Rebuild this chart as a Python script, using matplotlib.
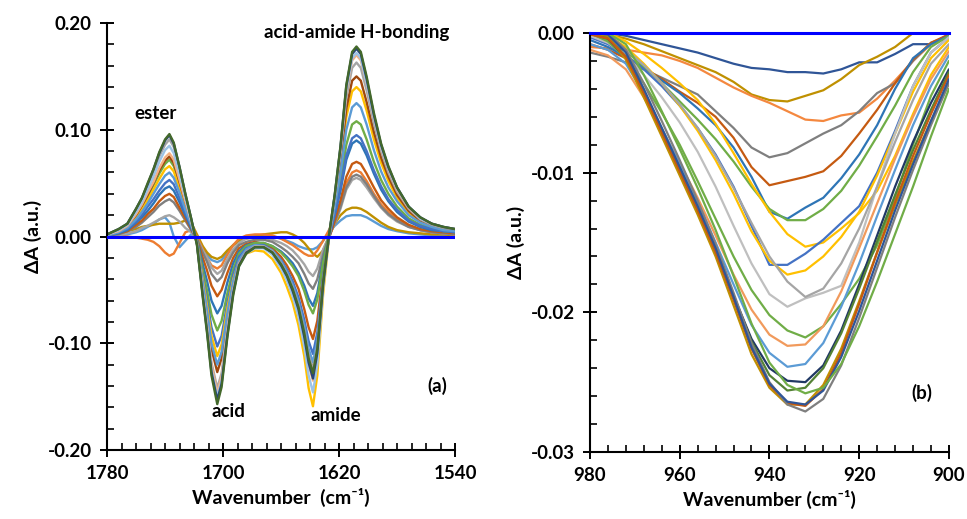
import matplotlib
matplotlib.use("Agg")
import matplotlib.pyplot as plt
from matplotlib.ticker import MultipleLocator, FixedLocator, FormatStrFormatter

plt.rcParams["font.family"] = ["Lato", "DejaVu Sans"]
plt.rcParams["axes.unicode_minus"] = False

# ---- panel (a): carbonyl region, wavenumber grid (cm-1) ----
wn_a = [1780, 1772, 1766, 1760, 1756, 1752, 1748, 1744, 1740, 1737,
        1734, 1730, 1726, 1722, 1718, 1714, 1711, 1708, 1704, 1701,
        1697, 1693, 1689, 1684, 1678, 1672, 1666, 1660, 1656, 1652,
        1648, 1644, 1641, 1638, 1635, 1631, 1627, 1623, 1619, 1615,
        1611, 1608, 1605, 1601, 1596, 1591, 1586, 1580, 1572, 1564,
        1556, 1548, 1540]
ticks_a = [1780, 1700, 1620, 1540]

a01 = [0.000, 0.001, 0.002, 0.004, 0.006, 0.009, 0.012, 0.016, 0.018, 0.013,
       0.000, -0.010, -0.004, 0.002, 0.000, -0.010, -0.017, -0.022, -0.024, -0.022,
       -0.015, -0.008, -0.004, -0.001, 0.001, 0.001, 0.000, -0.002, -0.004, -0.006,
       -0.009, -0.011, -0.012, -0.012, -0.010, -0.004, 0.004, 0.010, 0.015, 0.019,
       0.020, 0.020, 0.020, 0.018, 0.014, 0.010, 0.007, 0.005, 0.003, 0.002,
       0.001, 0.001, 0.001]
a02 = [0.001, 0.003, 0.005, 0.007, 0.009, 0.010, 0.011, 0.012, 0.012, 0.012,
       0.012, 0.013, 0.015, 0.013, 0.002, -0.009, -0.015, -0.019, -0.021, -0.019,
       -0.013, -0.008, -0.004, -0.002, 0.000, 0.002, 0.003, 0.004, 0.004, 0.002,
       -0.001, -0.006, -0.011, -0.016, -0.019, -0.013, 0.000, 0.012, 0.020, 0.025,
       0.027, 0.027, 0.026, 0.023, 0.018, 0.013, 0.009, 0.006, 0.004, 0.003,
       0.002, 0.002, 0.001]
a03 = [0.000, 0.000, 0.000, -0.001, -0.002, -0.003, -0.005, -0.009, -0.015, -0.018,
       -0.016, -0.006, 0.004, 0.006, 0.000, -0.012, -0.020, -0.027, -0.030, -0.027,
       -0.017, -0.008, -0.002, 0.001, 0.002, 0.002, 0.001, -0.002, -0.005, -0.008,
       -0.012, -0.016, -0.018, -0.018, -0.013, -0.004, 0.006, 0.016, 0.031, 0.050,
       0.060, 0.062, 0.060, 0.052, 0.040, 0.030, 0.023, 0.016, 0.010, 0.006,
       0.004, 0.003, 0.002]
a04 = [0.000, 0.001, 0.003, 0.005, 0.008, 0.010, 0.013, 0.016, 0.019, 0.020,
       0.018, 0.014, 0.008, 0.004, -0.002, -0.013, -0.020, -0.029, -0.035, -0.032,
       -0.021, -0.012, -0.006, -0.002, -0.001, -0.001, -0.003, -0.006, -0.009, -0.013,
       -0.019, -0.026, -0.033, -0.037, -0.030, -0.012, 0.000, 0.012, 0.026, 0.044,
       0.053, 0.055, 0.053, 0.046, 0.036, 0.027, 0.020, 0.014, 0.009, 0.006,
       0.004, 0.003, 0.002]
a05 = [0.001, 0.002, 0.005, 0.009, 0.013, 0.018, 0.023, 0.029, 0.033, 0.035,
       0.032, 0.024, 0.015, 0.006, -0.002, -0.015, -0.024, -0.035, -0.042, -0.038,
       -0.025, -0.015, -0.008, -0.005, -0.003, -0.003, -0.005, -0.010, -0.014, -0.019,
       -0.025, -0.035, -0.044, -0.049, -0.040, -0.017, 0.000, 0.013, 0.028, 0.046,
       0.056, 0.058, 0.056, 0.049, 0.038, 0.028, 0.021, 0.015, 0.009, 0.006,
       0.004, 0.003, 0.002]
a06 = [0.001, 0.003, 0.005, 0.011, 0.015, 0.021, 0.026, 0.033, 0.038, 0.040,
       0.037, 0.027, 0.017, 0.007, -0.003, -0.020, -0.032, -0.046, -0.056, -0.050,
       -0.034, -0.020, -0.011, -0.007, -0.005, -0.007, -0.011, -0.019, -0.027, -0.037,
       -0.049, -0.068, -0.085, -0.096, -0.079, -0.033, -0.002, 0.015, 0.034, 0.056,
       0.068, 0.070, 0.068, 0.059, 0.046, 0.034, 0.026, 0.018, 0.011, 0.007,
       0.005, 0.004, 0.003]
a07 = [0.001, 0.003, 0.006, 0.013, 0.018, 0.024, 0.031, 0.039, 0.045, 0.047,
       0.043, 0.032, 0.020, 0.008, -0.003, -0.026, -0.042, -0.060, -0.072, -0.065,
       -0.043, -0.025, -0.014, -0.008, -0.006, -0.006, -0.009, -0.014, -0.019, -0.025,
       -0.034, -0.046, -0.058, -0.065, -0.053, -0.022, 0.000, 0.020, 0.043, 0.072,
       0.087, 0.090, 0.087, 0.076, 0.059, 0.044, 0.033, 0.023, 0.014, 0.009,
       0.006, 0.005, 0.004]
a08 = [0.001, 0.005, 0.009, 0.019, 0.027, 0.037, 0.048, 0.059, 0.068, 0.072,
       0.066, 0.049, 0.030, 0.013, -0.004, -0.032, -0.051, -0.073, -0.088, -0.079,
       -0.053, -0.031, -0.016, -0.009, -0.006, -0.006, -0.009, -0.015, -0.021, -0.028,
       -0.037, -0.051, -0.064, -0.072, -0.059, -0.024, 0.001, 0.024, 0.052, 0.086,
       0.105, 0.108, 0.105, 0.091, 0.070, 0.053, 0.040, 0.028, 0.017, 0.011,
       0.008, 0.005, 0.004]
a09 = [0.001, 0.004, 0.007, 0.014, 0.020, 0.028, 0.035, 0.043, 0.050, 0.053,
       0.049, 0.036, 0.022, 0.010, -0.005, -0.037, -0.060, -0.085, -0.103, -0.093,
       -0.062, -0.036, -0.019, -0.011, -0.008, -0.008, -0.013, -0.022, -0.031, -0.042,
       -0.057, -0.078, -0.098, -0.110, -0.090, -0.038, -0.002, 0.021, 0.046, 0.076,
       0.092, 0.095, 0.092, 0.080, 0.062, 0.047, 0.035, 0.025, 0.015, 0.010,
       0.007, 0.005, 0.004]
a10 = [0.001, 0.005, 0.009, 0.018, 0.025, 0.034, 0.044, 0.054, 0.063, 0.066,
       0.061, 0.045, 0.028, 0.012, -0.005, -0.040, -0.065, -0.093, -0.112, -0.101,
       -0.067, -0.040, -0.023, -0.016, -0.013, -0.014, -0.021, -0.034, -0.047, -0.062,
       -0.083, -0.112, -0.142, -0.159, -0.130, -0.054, -0.002, 0.031, 0.067, 0.112,
       0.136, 0.140, 0.136, 0.118, 0.091, 0.069, 0.052, 0.036, 0.022, 0.014,
       0.010, 0.007, 0.006]
a11 = [0.002, 0.005, 0.010, 0.020, 0.029, 0.039, 0.050, 0.062, 0.071, 0.075,
       0.069, 0.051, 0.032, 0.014, -0.006, -0.046, -0.074, -0.105, -0.127, -0.114,
       -0.076, -0.044, -0.023, -0.014, -0.009, -0.010, -0.015, -0.025, -0.035, -0.048,
       -0.064, -0.088, -0.111, -0.125, -0.103, -0.042, 0.000, 0.033, 0.072, 0.120,
       0.146, 0.150, 0.146, 0.126, 0.098, 0.074, 0.056, 0.039, 0.024, 0.015,
       0.011, 0.008, 0.006]
a12 = [0.001, 0.004, 0.008, 0.016, 0.023, 0.031, 0.040, 0.049, 0.057, 0.060,
       0.055, 0.041, 0.025, 0.011, -0.006, -0.043, -0.070, -0.100, -0.120, -0.108,
       -0.072, -0.042, -0.022, -0.012, -0.008, -0.009, -0.013, -0.023, -0.033, -0.045,
       -0.061, -0.083, -0.105, -0.118, -0.097, -0.040, -0.001, 0.028, 0.060, 0.100,
       0.121, 0.125, 0.121, 0.105, 0.081, 0.061, 0.046, 0.033, 0.020, 0.013,
       0.009, 0.006, 0.005]
a13 = [0.002, 0.006, 0.012, 0.025, 0.035, 0.047, 0.060, 0.075, 0.086, 0.091,
       0.084, 0.062, 0.038, 0.016, -0.007, -0.051, -0.082, -0.118, -0.142, -0.128,
       -0.085, -0.049, -0.025, -0.014, -0.009, -0.009, -0.014, -0.025, -0.035, -0.048,
       -0.064, -0.088, -0.111, -0.125, -0.103, -0.042, 0.000, 0.036, 0.078, 0.130,
       0.158, 0.163, 0.158, 0.137, 0.106, 0.080, 0.060, 0.042, 0.026, 0.016,
       0.011, 0.008, 0.007]
a14 = [0.002, 0.005, 0.010, 0.021, 0.030, 0.041, 0.051, 0.064, 0.074, 0.078,
       0.072, 0.053, 0.033, 0.014, -0.007, -0.053, -0.085, -0.121, -0.146, -0.131,
       -0.088, -0.051, -0.026, -0.015, -0.010, -0.010, -0.015, -0.027, -0.038, -0.052,
       -0.069, -0.095, -0.120, -0.135, -0.111, -0.046, 0.000, 0.037, 0.082, 0.136,
       0.165, 0.170, 0.165, 0.143, 0.111, 0.083, 0.063, 0.044, 0.027, 0.017,
       0.012, 0.009, 0.007]
a15 = [0.002, 0.006, 0.011, 0.023, 0.032, 0.044, 0.056, 0.070, 0.081, 0.085,
       0.078, 0.058, 0.036, 0.015, -0.007, -0.054, -0.087, -0.125, -0.150, -0.135,
       -0.090, -0.052, -0.028, -0.016, -0.011, -0.011, -0.017, -0.030, -0.041, -0.056,
       -0.075, -0.103, -0.130, -0.146, -0.120, -0.049, 0.000, 0.038, 0.083, 0.138,
       0.167, 0.172, 0.167, 0.144, 0.112, 0.084, 0.064, 0.045, 0.028, 0.017,
       0.012, 0.009, 0.007]
a16 = [0.002, 0.007, 0.012, 0.026, 0.036, 0.049, 0.063, 0.078, 0.090, 0.095,
       0.087, 0.065, 0.040, 0.017, -0.007, -0.055, -0.089, -0.127, -0.153, -0.138,
       -0.092, -0.053, -0.027, -0.015, -0.010, -0.010, -0.015, -0.027, -0.037, -0.051,
       -0.068, -0.094, -0.118, -0.133, -0.109, -0.045, 0.000, 0.039, 0.084, 0.141,
       0.171, 0.176, 0.171, 0.148, 0.114, 0.086, 0.065, 0.046, 0.028, 0.018,
       0.012, 0.009, 0.007]
a17 = [0.002, 0.007, 0.012, 0.026, 0.036, 0.050, 0.063, 0.079, 0.091, 0.096,
       0.088, 0.065, 0.040, 0.017, -0.008, -0.057, -0.091, -0.130, -0.157, -0.141,
       -0.094, -0.055, -0.028, -0.016, -0.010, -0.010, -0.015, -0.026, -0.036, -0.049,
       -0.066, -0.090, -0.114, -0.128, -0.105, -0.043, 0.001, 0.039, 0.085, 0.142,
       0.173, 0.178, 0.173, 0.150, 0.116, 0.087, 0.066, 0.046, 0.028, 0.018,
       0.012, 0.009, 0.007]

series_a = [a01, a02, a03, a04, a05, a06, a07, a08, a09, a10,
            a11, a12, a13, a14, a15, a16, a17]
colors_a = ["#5B9BD5", "#BF9000", "#ED7D31", "#A5A5A5", "#7F7F7F", "#C55A11",
            "#2E75B6", "#70AD47", "#4472C4", "#FFC000", "#9E480E", "#5B9BD5",
            "#A5A5A5", "#F4B183", "#9DC3E6", "#264478", "#43682B"]

# ---- panel (b): 935 cm-1 band ----
wn_b = [980, 976, 972, 968, 964, 960, 956, 952, 948, 944, 940,
        936, 932, 928, 924, 920, 916, 912, 908, 904, 900]

b01 = [0.0000, 0.0000, -0.0002, -0.0005, -0.0008, -0.0011, -0.0014, -0.0018, -0.0022, -0.0025, -0.0026,
       -0.0028, -0.0028, -0.0029, -0.0026, -0.0021, -0.0021, -0.0015, -0.0008, -0.0008, -0.0001]
b02 = [0.0000, -0.0001, -0.0004, -0.0008, -0.0013, -0.0018, -0.0023, -0.0028, -0.0035, -0.0044, -0.0048,
       -0.0049, -0.0045, -0.0041, -0.0033, -0.0023, -0.0017, -0.0010, 0.0000, 0.0006, 0.0010]
b03 = [-0.0010, -0.0011, -0.0012, -0.0014, -0.0016, -0.0020, -0.0025, -0.0032, -0.0039, -0.0045, -0.0050,
       -0.0056, -0.0062, -0.0063, -0.0059, -0.0057, -0.0047, -0.0034, -0.0020, -0.0008, -0.0002]
b04 = [-0.0014, -0.0017, -0.0021, -0.0026, -0.0032, -0.0038, -0.0044, -0.0056, -0.0068, -0.0082, -0.0089,
       -0.0086, -0.0079, -0.0072, -0.0066, -0.0056, -0.0043, -0.0036, -0.0020, -0.0007, -0.0002]
b05 = [-0.0008, -0.0012, -0.0018, -0.0025, -0.0033, -0.0042, -0.0050, -0.0060, -0.0075, -0.0096, -0.0109,
       -0.0106, -0.0103, -0.0099, -0.0088, -0.0072, -0.0055, -0.0036, -0.0019, -0.0007, -0.0001]
b06 = [-0.0005, -0.0010, -0.0017, -0.0025, -0.0034, -0.0043, -0.0054, -0.0066, -0.0082, -0.0103, -0.0128,
       -0.0133, -0.0125, -0.0118, -0.0104, -0.0087, -0.0066, -0.0040, -0.0018, -0.0008, -0.0002]
b07 = [-0.0002, -0.0005, -0.0013, -0.0024, -0.0036, -0.0049, -0.0062, -0.0076, -0.0092, -0.0110, -0.0126,
       -0.0134, -0.0134, -0.0126, -0.0113, -0.0095, -0.0074, -0.0052, -0.0028, -0.0010, -0.0002]
b08 = [0.0000, 0.0000, -0.0006, -0.0015, -0.0025, -0.0036, -0.0048, -0.0065, -0.0086, -0.0108, -0.0128,
       -0.0144, -0.0153, -0.0150, -0.0140, -0.0129, -0.0113, -0.0088, -0.0058, -0.0030, -0.0010]
b09 = [-0.0003, -0.0008, -0.0016, -0.0026, -0.0038, -0.0052, -0.0068, -0.0087, -0.0110, -0.0138, -0.0166,
       -0.0166, -0.0158, -0.0148, -0.0136, -0.0124, -0.0100, -0.0070, -0.0038, -0.0014, -0.0003]
b10 = [0.0000, -0.0002, -0.0010, -0.0022, -0.0036, -0.0052, -0.0070, -0.0091, -0.0115, -0.0142, -0.0163,
       -0.0173, -0.0170, -0.0160, -0.0146, -0.0128, -0.0102, -0.0072, -0.0042, -0.0018, -0.0005]
b11 = [-0.0002, -0.0007, -0.0016, -0.0030, -0.0046, -0.0064, -0.0085, -0.0110, -0.0138, -0.0165, -0.0187,
       -0.0196, -0.0190, -0.0186, -0.0181, -0.0150, -0.0110, -0.0072, -0.0038, -0.0014, -0.0003]
b12 = [0.0000, -0.0004, -0.0012, -0.0023, -0.0036, -0.0051, -0.0068, -0.0088, -0.0111, -0.0136, -0.0160,
       -0.0178, -0.0189, -0.0183, -0.0165, -0.0140, -0.0110, -0.0078, -0.0048, -0.0022, -0.0008]
b13 = [0.0000, -0.0006, -0.0018, -0.0036, -0.0057, -0.0080, -0.0106, -0.0133, -0.0160, -0.0184, -0.0202,
       -0.0213, -0.0218, -0.0210, -0.0194, -0.0176, -0.0152, -0.0118, -0.0080, -0.0045, -0.0020]
b14 = [-0.0012, -0.0016, -0.0026, -0.0046, -0.0069, -0.0093, -0.0118, -0.0145, -0.0173, -0.0198, -0.0216,
       -0.0224, -0.0223, -0.0210, -0.0185, -0.0154, -0.0122, -0.0090, -0.0060, -0.0033, -0.0013]
b15 = [-0.0008, -0.0012, -0.0022, -0.0043, -0.0068, -0.0094, -0.0121, -0.0150, -0.0180, -0.0209, -0.0229,
       -0.0239, -0.0237, -0.0222, -0.0196, -0.0165, -0.0131, -0.0098, -0.0066, -0.0038, -0.0016]
b16 = [0.0000, -0.0004, -0.0018, -0.0044, -0.0071, -0.0099, -0.0127, -0.0156, -0.0188, -0.0219, -0.0240,
       -0.0249, -0.0250, -0.0238, -0.0213, -0.0180, -0.0145, -0.0110, -0.0078, -0.0050, -0.0026]
b17 = [0.0000, -0.0003, -0.0017, -0.0042, -0.0069, -0.0097, -0.0125, -0.0155, -0.0188, -0.0221, -0.0245,
       -0.0256, -0.0254, -0.0240, -0.0215, -0.0183, -0.0149, -0.0116, -0.0084, -0.0055, -0.0028]
b18 = [0.0000, -0.0002, -0.0019, -0.0046, -0.0074, -0.0102, -0.0130, -0.0160, -0.0195, -0.0230, -0.0254,
       -0.0266, -0.0266, -0.0252, -0.0226, -0.0192, -0.0157, -0.0123, -0.0092, -0.0063, -0.0036]
b19 = [-0.0001, -0.0004, -0.0017, -0.0043, -0.0071, -0.0099, -0.0127, -0.0157, -0.0191, -0.0226, -0.0252,
       -0.0265, -0.0267, -0.0255, -0.0229, -0.0194, -0.0157, -0.0121, -0.0088, -0.0058, -0.0030]
b20 = [0.0000, 0.0000, -0.0012, -0.0036, -0.0063, -0.0091, -0.0120, -0.0151, -0.0186, -0.0222, -0.0250,
       -0.0266, -0.0271, -0.0262, -0.0238, -0.0204, -0.0168, -0.0132, -0.0098, -0.0066, -0.0036]
b21 = [0.0000, -0.0001, -0.0014, -0.0040, -0.0068, -0.0096, -0.0124, -0.0154, -0.0189, -0.0225, -0.0251,
       -0.0264, -0.0266, -0.0256, -0.0232, -0.0199, -0.0163, -0.0127, -0.0094, -0.0063, -0.0033]
b22 = [0.0000, 0.0000, -0.0008, -0.0030, -0.0056, -0.0083, -0.0111, -0.0141, -0.0174, -0.0208, -0.0236,
       -0.0252, -0.0258, -0.0254, -0.0237, -0.0210, -0.0178, -0.0144, -0.0110, -0.0074, -0.0040]

series_b = [b01, b02, b03, b04, b05, b06, b07, b08, b09, b10, b11,
            b12, b13, b14, b15, b16, b17, b18, b19, b20, b21, b22]
colors_b = ["#2F5597", "#BF9000", "#F4883F", "#7F7F7F", "#C55A11", "#2E75B6",
            "#70AD47", "#FFC000", "#4472C4", "#FFC000", "#BFBFBF", "#A5A5A5",
            "#70AD47", "#F19A5C", "#5B9BD5", "#203864", "#548235", "#BF9000",
            "#C55A11", "#7F7F7F", "#2F5597", "#70AD47"]


def style_axis(ax):
    for side in ["top", "right"]:
        ax.spines[side].set_visible(False)
    for side in ["left", "bottom"]:
        ax.spines[side].set_linewidth(1.5)
        ax.spines[side].set_color("black")
    ax.tick_params(which="major", direction="inout", length=10, width=1.4,
                   labelsize=13.5, pad=6)
    ax.tick_params(which="minor", direction="in", length=5, width=1.2)
    for lab in ax.get_xticklabels() + ax.get_yticklabels():
        lab.set_fontweight("bold")


fig = plt.figure(figsize=(9.67, 5.19), dpi=100)

# panel (a)
ax1 = fig.add_axes([0.1107, 0.1329, 0.3599, 0.8227])
for ys, c in zip(series_a, colors_a):
    ax1.plot(wn_a, ys, color=c, lw=1.7, solid_capstyle="round")
ax1.axhline(0, color="#0000FF", lw=2.2, zorder=5)
ax1.set_xlim(1780, 1540)
ax1.set_ylim(-0.20, 0.20)
ax1.xaxis.set_major_locator(FixedLocator(ticks_a))
ax1.xaxis.set_minor_locator(MultipleLocator(10))
ax1.yaxis.set_major_locator(MultipleLocator(0.10))
ax1.yaxis.set_minor_locator(MultipleLocator(0.02))
ax1.yaxis.set_major_formatter(FormatStrFormatter("%.2f"))
style_axis(ax1)
ax1.set_xlabel("Wavenumber  (cm\u207b\u00b9)", fontsize=14, fontweight="bold")
ax1.set_ylabel("\u0394A (a.u.)", fontsize=14, fontweight="bold")
ax1.text(1746.5, 0.115, "ester", fontsize=13.5, fontweight="bold", ha="center", va="center")
ax1.text(1608, 0.191, "acid-amide H-bonding", fontsize=13.5, fontweight="bold",
         ha="center", va="center")
ax1.text(1696.5, -0.164, "acid", fontsize=13.5, fontweight="bold", ha="center", va="center")
ax1.text(1622.5, -0.168, "amide", fontsize=13.5, fontweight="bold", ha="center", va="center")
ax1.text(1552, -0.140, "(a)", fontsize=13.5, fontweight="bold", ha="center", va="center")

# panel (b)
ax2 = fig.add_axes([0.6101, 0.1291, 0.3712, 0.8073])
for ys, c in zip(series_b, colors_b):
    ax2.plot(wn_b, ys, color=c, lw=1.6, solid_capstyle="round")
ax2.axhline(0, color="#0000FF", lw=2.2, zorder=5, clip_on=False)
ax2.set_xlim(980, 900)
ax2.set_ylim(-0.03, 0.0)
ax2.xaxis.set_major_locator(MultipleLocator(20))
ax2.xaxis.set_minor_locator(MultipleLocator(4))
ax2.yaxis.set_major_locator(MultipleLocator(0.01))
ax2.yaxis.set_minor_locator(MultipleLocator(0.002))
ax2.yaxis.set_major_formatter(FormatStrFormatter("%.2f"))
style_axis(ax2)
ax2.set_xlabel("Wavenumber (cm\u207b\u00b9)", fontsize=14, fontweight="bold")
ax2.set_ylabel("\u0394A (a.u.)", fontsize=14, fontweight="bold")
ax2.text(906, -0.0258, "(b)", fontsize=13.5, fontweight="bold", ha="center", va="center")

fig.savefig("out.png", dpi=100)
